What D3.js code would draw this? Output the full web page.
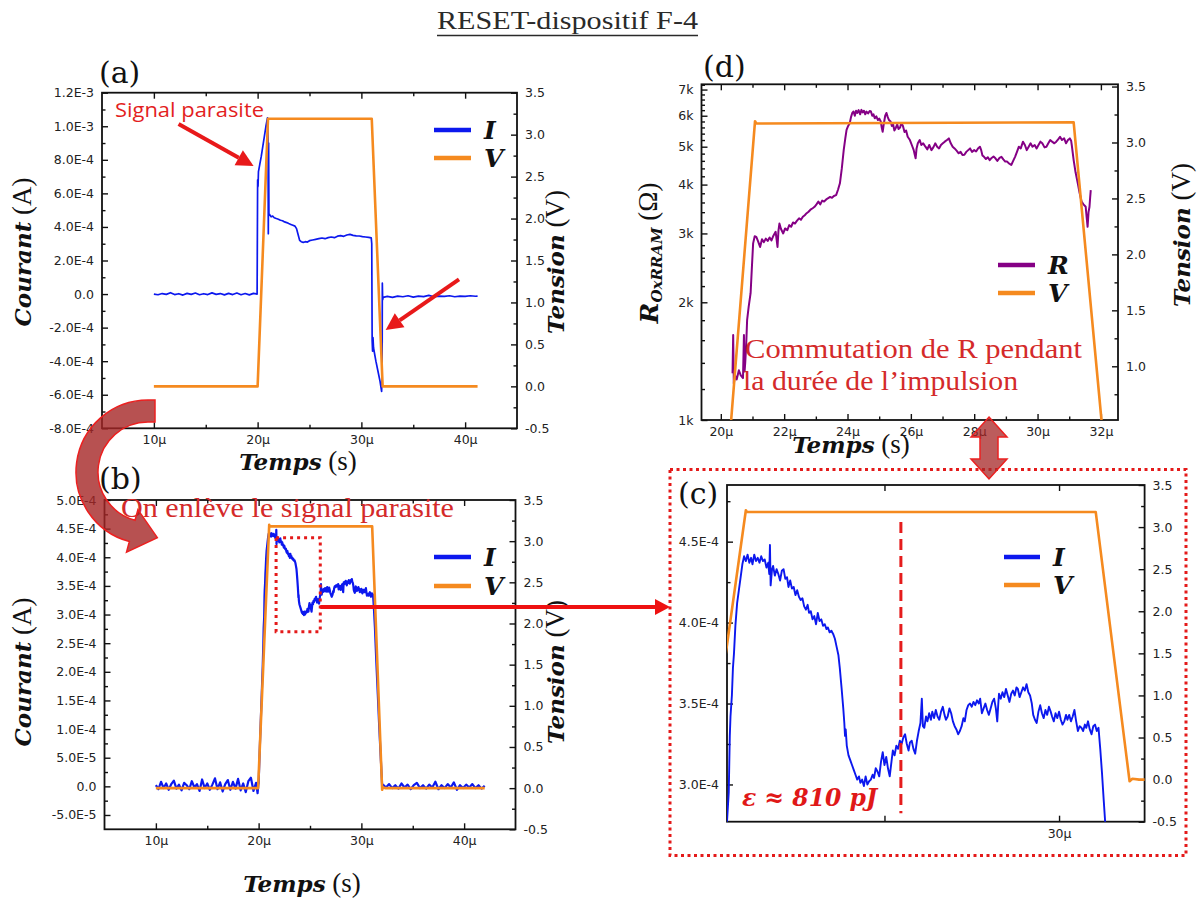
<!DOCTYPE html>
<html><head><meta charset="utf-8">
<script src="https://cdn.jsdelivr.net/npm/d3@7"></script>
<style>body{margin:0;background:#fff} svg{display:block}</style>
</head><body>
<svg id="fig" width="1197" height="900"></svg>
<script>
// ================= DATA =================
// Panel (a): raw measurement. time in µs, current in mA (×1e-3 A), voltage in V
const aCurrent = [[10,0],[10.4,-0.004],[10.8,0.003],[11.2,-0.002],[11.6,0.008],[12.0,-0.003],[12.4,0.002],[12.8,-0.006],[13.2,0.004],[13.6,-0.002],[14.0,0.006],[14.4,-0.004],[14.8,0.002],[15.2,-0.003],[15.6,0.007],[16.0,-0.002],[16.4,0.003],[16.8,-0.005],[17.2,0.004],[17.6,-0.003],[18.0,0.006],[18.4,-0.004],[18.8,0.003],[19.2,-0.005],[19.6,0.004],[19.95,0.0],
[20.0,0.68],[20.04,0.64],[20.08,0.73],[20.2,0.77],[20.35,0.82],[20.5,0.88],[20.65,0.94],[20.8,1.0],[20.95,1.05],[21.0,0.93],[21.03,0.36],[21.06,0.9],[21.09,0.47],[21.15,0.475],[21.3,0.46],[21.45,0.465],[21.6,0.455],[21.8,0.45],[22.0,0.446],[22.2,0.44],[22.4,0.437],[22.6,0.43],[22.8,0.426],[23.0,0.42],[23.2,0.415],[23.4,0.41],[23.6,0.405],[23.75,0.39],[23.9,0.355],[24.05,0.32],[24.2,0.312],[24.4,0.308],[24.6,0.312],[24.8,0.31],[25.0,0.318],[25.3,0.322],[25.6,0.326],[25.9,0.33],[26.2,0.334],[26.5,0.33],[26.8,0.336],[27.1,0.34],[27.4,0.336],[27.7,0.345],[28.0,0.348],[28.3,0.344],[28.6,0.352],[28.9,0.356],[29.2,0.35],[29.5,0.347],[29.8,0.346],[30.1,0.342],[30.4,0.34],[30.7,0.338],[30.95,0.335],
[31.0,0.3],[31.04,-0.28],[31.08,-0.34],[31.12,-0.26],[31.17,-0.32],[31.4,-0.4],[31.6,-0.46],[31.8,-0.52],[31.95,-0.58],[32.0,-0.48],[32.02,0.065],[32.05,-0.035],[32.1,-0.02],[32.5,-0.014],[33,-0.02],[33.5,-0.012],[34,-0.016],[34.5,-0.01],[35,-0.018],[35.5,-0.012],[36,-0.015],[36.5,-0.008],[37,-0.016],[37.5,-0.012],[38,-0.014],[38.5,-0.01],[39,-0.016],[39.5,-0.012],[40,-0.014],[40.5,-0.01],[41,-0.013],[41.2,-0.012]];
const aVoltage = [[10,0],[20.0,0],[21.0,3.19],[31.0,3.19],[32.05,0],[41.2,0]];

// Panels (b) and (c): corrected current, time in µs, current in ×1e-4 A
const bBaselineBefore = [[10.0,0.02],[10.25,-0.05],[10.5,0.08],[10.75,-0.03],[11.0,0.05],[11.25,-0.06],[11.5,0.04],[11.75,0.1],[12.0,-0.04],[12.25,0.03],[12.5,-0.07],[12.75,0.06],[13.0,0.02],[13.25,-0.05],[13.5,0.09],[13.75,-0.02],[14.0,0.04],[14.25,-0.08],[14.5,0.12],[14.75,-0.03],[15.0,0.05],[15.25,-0.06],[15.5,0.03],[15.75,0.14],[16.0,-0.05],[16.25,0.07],[16.5,-0.09],[16.75,0.04],[17.0,0.11],[17.25,-0.06],[17.5,0.08],[17.75,-0.04],[18.0,0.13],[18.25,-0.07],[18.5,0.05],[18.75,-0.1],[19.0,0.09],[19.25,0.15],[19.5,-0.08],[19.75,0.06],[19.9,-0.12],[19.97,0.03]];
const bPulse = [[20.0,0.05],[20.1,0.6],[20.2,1.1],[20.3,1.6],[20.4,2.1],[20.46,2.5],
[20.49,2.77],[20.54,2.95],[20.57,3.30],[20.59,3.42],[20.63,3.55],[20.66,3.72],[20.69,3.81],[20.73,3.98],[20.78,4.12],[20.83,4.20],[20.88,4.28],[20.93,4.36],[20.98,4.41],[21.03,4.38],[21.08,4.42],[21.13,4.37],[21.18,4.40],[21.22,4.36],[21.27,4.42],[21.32,4.38],[21.37,4.40],[21.42,4.37],[21.47,4.41],[21.52,4.38],[21.57,4.39],[21.62,4.34],[21.67,4.37],[21.70,4.30],[21.72,4.48],[21.74,4.23],[21.78,4.33],[21.81,4.35],[21.86,4.29],[21.91,4.33],[21.96,4.30],[22.01,4.26],[22.06,4.32],[22.11,4.33],[22.16,4.27],[22.21,4.28],[22.25,4.22],[22.30,4.26],[22.35,4.21],[22.40,4.22],[22.45,4.17],[22.50,4.20],[22.55,4.16],[22.60,4.14],[22.65,4.15],[22.70,4.10],[22.75,4.08],[22.80,4.11],[22.84,4.06],[22.89,4.07],[22.94,4.02],[22.99,4.04],[23.04,3.99],[23.09,4.06],[23.14,4.01],[23.19,4.02],[23.24,3.98],[23.29,3.99],[23.34,3.96],[23.38,3.97],[23.43,3.94],[23.48,3.95],[23.53,3.93],[23.58,3.90],[23.63,3.85],[23.68,3.80],[23.72,3.72],[23.77,3.60],[23.82,3.47],[23.85,3.38],[23.87,3.30],[23.89,3.34],[23.92,3.24],[23.97,3.18],[24.02,3.15],[24.07,3.12],[24.12,3.09],[24.17,3.06],[24.22,3.03],[24.27,3.05],[24.31,3.01],[24.36,3.03],[24.41,2.99],[24.46,3.05],[24.51,3.00],[24.56,3.02],[24.61,3.03],[24.66,3.06],[24.70,3.04],[24.75,3.10],[24.80,3.08],[24.85,3.05],[24.90,3.14],[24.95,3.20],[25.00,3.12],[25.05,3.17],[25.10,3.10],[25.15,3.05],[25.20,3.14],[25.24,3.21],[25.29,3.18],[25.34,3.24],[25.39,3.22],[25.44,3.27],[25.49,3.25],[25.54,3.29],[25.59,3.31],[25.64,3.25],[25.69,3.21],[25.73,3.26],[25.78,3.27],[25.83,3.22],[25.88,3.19],[25.93,3.27],[25.98,3.33],[26.03,3.38],[26.07,3.53],[26.10,3.36],[26.14,3.35],[26.19,3.42],[26.23,3.39],[26.28,3.44],[26.33,3.40],[26.37,3.45],[26.42,3.41],[26.47,3.46],[26.52,3.42],[26.57,3.40],[26.62,3.45],[26.67,3.48],[26.72,3.43],[26.76,3.40],[26.81,3.42],[26.86,3.47],[26.91,3.44],[26.96,3.39],[27.01,3.36],[27.06,3.34],[27.11,3.31],[27.16,3.33],[27.21,3.36],[27.26,3.41],[27.30,3.39],[27.35,3.46],[27.40,3.49],[27.45,3.50],[27.50,3.48],[27.55,3.51],[27.60,3.49],[27.65,3.52],[27.70,3.50],[27.74,3.53],[27.79,3.44],[27.84,3.47],[27.89,3.50],[27.94,3.46],[27.99,3.43],[28.04,3.47],[28.09,3.51],[28.14,3.53],[28.19,3.47],[28.23,3.39],[28.26,3.50],[28.28,3.56],[28.33,3.53],[28.38,3.57],[28.43,3.54],[28.48,3.59],[28.53,3.55],[28.58,3.51],[28.63,3.56],[28.68,3.58],[28.73,3.55],[28.78,3.60],[28.82,3.59],[28.87,3.54],[28.92,3.57],[28.97,3.60],[29.02,3.58],[29.07,3.62],[29.12,3.57],[29.17,3.55],[29.22,3.50],[29.26,3.43],[29.31,3.40],[29.36,3.38],[29.41,3.45],[29.46,3.49],[29.51,3.44],[29.56,3.41],[29.61,3.46],[29.66,3.43],[29.71,3.48],[29.76,3.45],[29.80,3.42],[29.85,3.39],[29.90,3.44],[29.95,3.41],[30.00,3.45],[30.05,3.40],[30.10,3.37],[30.15,3.39],[30.20,3.43],[30.24,3.40],[30.29,3.43],[30.34,3.39],[30.39,3.42],[30.44,3.46],[30.49,3.39],[30.54,3.33],[30.59,3.36],[30.64,3.35],[30.69,3.33],[30.74,3.37],[30.78,3.35],[30.83,3.39],[30.88,3.34],[30.93,3.31],[30.98,3.36],[31.03,3.37],[31.08,3.33],[31.13,3.35],[31.18,3.22],[31.23,3.07],[31.28,2.90],[31.32,2.77],
[31.45,2.2],[31.6,1.6],[31.75,1.0],[31.9,0.45],[32.02,0.02]];
const bBaselineAfter = [[32.1,0.03],[32.4,-0.02],[32.7,0.04],[33.0,-0.03],[33.3,0.02],[33.6,-0.04],[33.9,0.05],[34.2,-0.02],[34.5,0.03],[34.8,-0.05],[35.1,0.02],[35.4,0.06],[35.7,-0.03],[36.0,0.02],[36.3,-0.04],[36.6,0.03],[36.9,-0.02],[37.2,0.08],[37.5,-0.05],[37.8,0.02],[38.1,-0.03],[38.4,0.04],[38.7,-0.02],[39.0,0.07],[39.3,-0.06],[39.6,0.02],[39.9,-0.03],[40.2,0.03],[40.5,-0.02],[40.8,0.04],[41.1,-0.03],[41.4,0.02],[41.7,-0.04],[42.0,0.01]];
const bVoltage = [[10,0],[19.95,0],[21.03,3.2],[21.06,3.18],[31.05,3.18],[32.02,-0.02],[32.1,0.01],[32.3,0],[42,0]];

// Panel (d): resistance in Ω, time in µs
const dResistance = [[20.37,1316],[20.39,1650],[20.41,1240],[20.45,1300],[20.5,1270],[20.57,1340],[20.63,1300],[20.7,1280],[20.73,1650],[20.75,1330],[20.77,1400],[20.8,1550],[20.83,1800],[20.88,1950],[20.94,2110],[20.98,2450],[21.02,2830],[21.07,2950],[21.12,2940],[21.18,2860],[21.24,2770],[21.3,2900],[21.36,2850],[21.42,2910],[21.48,2870],[21.54,2930],[21.6,2880],[21.66,2960],[21.73,3030],[21.76,2900],[21.79,2770],[21.82,3050],[21.85,3180],[21.9,3080],[21.97,3000],[22.03,3090],[22.1,3060],[22.16,3150],[22.22,3120],[22.28,3200],[22.34,3180],[22.4,3230],[22.47,3280],[22.53,3250],[22.59,3310],[22.65,3340],[22.71,3380],[22.77,3410],[22.83,3450],[22.9,3480],[22.96,3510],[23.02,3560],[23.08,3620],[23.14,3560],[23.2,3640],[23.26,3620],[23.32,3660],[23.38,3690],[23.45,3720],[23.51,3700],[23.57,3740],[23.64,3760],[23.7,3880],[23.76,4030],[23.82,4400],[23.88,4900],[23.93,5250],[23.97,5520],[24.02,5650],[24.07,5740],[24.11,5950],[24.15,6100],[24.19,6150],[24.23,6000],[24.27,6180],[24.31,6100],[24.35,6200],[24.4,6050],[24.44,6210],[24.48,6120],[24.52,6180],[24.56,6050],[24.6,6150],[24.65,6080],[24.7,6170],[24.74,6150],[24.78,6000],[24.82,6050],[24.86,5910],[24.91,5980],[24.96,5850],[25.0,5900],[25.05,5800],[25.08,5600],[25.11,5460],[25.15,5750],[25.19,6000],[25.23,6100],[25.27,5950],[25.31,5850],[25.36,5800],[25.4,5650],[25.44,5700],[25.48,5500],[25.53,5600],[25.57,5700],[25.61,5550],[25.66,5600],[25.7,5750],[25.75,5650],[25.8,5450],[25.85,5500],[25.9,5300],[25.97,5200],[26.03,5050],[26.09,4900],[26.12,4780],[26.15,4670],[26.18,4950],[26.22,5100],[26.28,5200],[26.33,5050],[26.39,5100],[26.46,5000],[26.52,4920],[26.58,5050],[26.65,4900],[26.71,4980],[26.77,5100],[26.83,5000],[26.89,4950],[26.95,5050],[27.01,5100],[27.07,5150],[27.14,5200],[27.2,5250],[27.26,5100],[27.32,5000],[27.38,4950],[27.45,4880],[27.51,4810],[27.57,4850],[27.63,4760],[27.69,4770],[27.75,4850],[27.81,4900],[27.87,4950],[27.93,4850],[28.0,4900],[28.06,4860],[28.12,4950],[28.18,5000],[28.22,4900],[28.26,4750],[28.31,4710],[28.37,4650],[28.43,4700],[28.49,4620],[28.55,4680],[28.61,4720],[28.67,4670],[28.73,4600],[28.8,4680],[28.86,4710],[28.92,4640],[28.98,4580],[29.04,4580],[29.1,4530],[29.17,4490],[29.23,4600],[29.29,4710],[29.35,4850],[29.41,5000],[29.47,4950],[29.54,5150],[29.6,5050],[29.66,4900],[29.72,5000],[29.78,5100],[29.84,5000],[29.91,5050],[29.97,4950],[30.03,5050],[30.09,5150],[30.15,5100],[30.22,4980],[30.28,5000],[30.34,5100],[30.4,5200],[30.46,5150],[30.53,5100],[30.59,5150],[30.65,5220],[30.71,5300],[30.77,5200],[30.84,5250],[30.9,5100],[30.96,5200],[31.02,5250],[31.06,5180],[31.08,5050],[31.14,4620],[31.2,4300],[31.27,4030],[31.33,3800],[31.39,3620],[31.45,3560],[31.52,3510],[31.55,3300],[31.58,3120],[31.61,3400],[31.64,3510],[31.66,3700],[31.68,3870]];
const dVoltage = [[20.18,0],[21.08,3.19],[21.12,3.17],[31.14,3.18],[32.19,0]];

// Tick values and labels
const timeTicksAB = [10,20,30,40];
const timeLabelsAB = ["10μ","20μ","30μ","40μ"];
const timeMinorAB = [15,25,35];
const aCurrentTicks = [-0.8,-0.6,-0.4,-0.2,0,0.2,0.4,0.6,0.8,1.0,1.2];
const aCurrentLabels = ["-8.0E-4","-6.0E-4","-4.0E-4","-2.0E-4","0.0","2.0E-4","4.0E-4","6.0E-4","8.0E-4","1.0E-3","1.2E-3"];
const aCurrentMinor = [-0.7,-0.5,-0.3,-0.1,0.1,0.3,0.5,0.7,0.9,1.1];
const bCurrentTicks = [-0.5,0,0.5,1.0,1.5,2.0,2.5,3.0,3.5,4.0,4.5,5.0];
const bCurrentLabels = ["-5.0E-5","0.0","5.0E-5","1.0E-4","1.5E-4","2.0E-4","2.5E-4","3.0E-4","3.5E-4","4.0E-4","4.5E-4","5.0E-4"];
const bCurrentMinor = [-0.25,0.25,0.75,1.25,1.75,2.25,2.75,3.25,3.75,4.25,4.75];
const voltTicks = [-0.5,0,0.5,1.0,1.5,2.0,2.5,3.0,3.5];
const voltLabels = ["-0.5","0.0","0.5","1.0","1.5","2.0","2.5","3.0","3.5"];
const voltMinor = [-0.25,0.25,0.75,1.25,1.75,2.25,2.75,3.25];
const cTimeTicks = [25,30];
const cTimeLabels = ["","30μ"];
const cCurrentTicks = [3.0,3.5,4.0,4.5];
const cCurrentLabels = ["3.0E-4","3.5E-4","4.0E-4","4.5E-4"];
const cCurrentMinor = [3.25,3.75,4.25,4.75];
const dTimeTicks = [20,22,24,26,28,30,32];
const dTimeLabels = ["20μ","22μ","24μ","26μ","28μ","30μ","32μ"];
const dTimeMinor = [21,23,25,27,29,31];
const dResTicks = [1000,2000,3000,4000,5000,6000,7000];
const dResLabels = ["1k","2k","3k","4k","5k","6k","7k"];
const dResMinor = [1200,1400,1600,1800,2200,2400,2600,2800,3200,3400,3600,3800,4200,4400,4600,4800,5200,5400,5600,5800,6200,6400,6600,6800,7200];
const dVoltTicks = [1.0,1.5,2.0,2.5,3.0,3.5];
const dVoltLabels = ["1.0","1.5","2.0","2.5","3.0","3.5"];
const dVoltMinor = [0.75,1.25,1.75,2.25,2.75,3.25];

// ================= STYLE =================
const BLUE = "#0c18ee", ORANGE = "#f58a1f", PURPLE = "#850085", RED = "#e8191a", TXTRED = "#d42a2a";
const SANS = "'DejaVu Sans', sans-serif";
const SERIF = "'Liberation Serif', 'DejaVu Serif', serif";
const SERIFBI = "'DejaVu Serif', serif";

const svg = d3.select("#fig");
const defs = svg.append("defs");

function makePanel(o) {
  const x = d3.scaleLinear().domain(o.xDomain).range([o.l, o.r]);
  const yL = (o.logY ? d3.scaleLog() : d3.scaleLinear()).domain(o.yLDomain).range([o.b, o.t]);
  const yR = d3.scaleLinear().domain(o.yRDomain).range([o.b, o.t]);
  defs.append("clipPath").attr("id", "clip-" + o.id).append("rect")
    .attr("x", o.l).attr("y", o.t).attr("width", o.r - o.l).attr("height", o.b - o.t);
  const g = svg.append("g");
  return Object.assign({}, o, {x, yL, yR, g});
}

function axis(g, gen, tx, ty, vals, labels, size, pad) {
  const a = g.append("g").attr("transform", `translate(${tx},${ty})`)
    .call(gen.tickValues(vals).tickSize(size).tickSizeOuter(0).tickPadding(pad)
      .tickFormat(labels ? (d, i) => labels[i] : () => ""));
  a.select(".domain").remove();
  a.attr("font-family", SANS).attr("font-size", 12.5).attr("color", "#222");
  a.selectAll("line").attr("stroke", "#111").attr("stroke-width", 1.4);
  return a;
}

function drawAxes(p) {
  const g = p.g;
  axis(g, d3.axisBottom(p.x), 0, p.b, p.xTicks, p.xLabels, -6, 7);
  if (p.xMinor) axis(g, d3.axisBottom(p.x), 0, p.b, p.xMinor, null, -3.5, 7);
  axis(g, d3.axisTop(p.x), 0, p.t, p.xTicks, null, -6, 3);
  if (p.xMinor) axis(g, d3.axisTop(p.x), 0, p.t, p.xMinor, null, -3.5, 3);
  axis(g, d3.axisLeft(p.yL), p.l, 0, p.yLTicks, p.yLLabels, -6, 8);
  if (p.yLMinor) axis(g, d3.axisLeft(p.yL), p.l, 0, p.yLMinor, null, -3.5, 8);
  axis(g, d3.axisRight(p.yR), p.r, 0, p.yRTicks, p.yRLabels, -6, 8);
  if (p.yRMinor) axis(g, d3.axisRight(p.yR), p.r, 0, p.yRMinor, null, -3.5, 8);
  g.append("rect").attr("x", p.l).attr("y", p.t).attr("width", p.r - p.l).attr("height", p.b - p.t)
    .attr("fill", "none").attr("stroke", "#111").attr("stroke-width", 1.8);
}

function series(p, data, yScale, color, width) {
  p.g.append("path").datum(data).attr("clip-path", `url(#clip-${p.id})`)
    .attr("d", d3.line().x(d => p.x(d[0])).y(d => yScale(d[1])))
    .attr("fill", "none").attr("stroke", color).attr("stroke-width", width)
    .attr("stroke-linejoin", "round");
}

function legend(p, x0, x1, items) {
  items.forEach(it => {
    p.g.append("line").attr("x1", x0).attr("x2", x1).attr("y1", it.y).attr("y2", it.y)
      .attr("stroke", it.color).attr("stroke-width", 4.5);
    p.g.append("text").attr("x", x1 + 13).attr("y", it.y).attr("dy", "0.36em")
      .attr("font-family", SERIFBI).attr("font-weight", "bold").attr("font-style", "italic")
      .attr("font-size", 25).attr("fill", "#111").text(it.label);
  });
}

function axisTitle(x, y, rot, parts) {
  const t = svg.append("text").attr("transform", `translate(${x},${y}) rotate(${rot})`)
    .attr("text-anchor", "middle").attr("dy", "0.35em").attr("fill", "#111");
  parts.forEach(pt => {
    const s = t.append("tspan").text(pt.text).attr("font-size", pt.size || 23)
      .attr("font-family", pt.bi ? SERIFBI : SERIF);
    if (pt.bi) s.attr("font-weight", "bold").attr("font-style", "italic");
    if (pt.dy) s.attr("dy", pt.dy);
  });
  return t;
}

function panelLabel(x, y, txt) {
  svg.append("text").attr("x", x).attr("y", y).attr("font-family", SERIFBI)
    .attr("font-size", 30).attr("fill", "#111").text(txt);
}

// ================= PANEL A =================
const A = makePanel({id: "a", l: 102, r: 517, t: 92.7, b: 428.3,
  xDomain: [5, 45], yLDomain: [-0.8, 1.2], yRDomain: [-0.5, 3.5],
  xTicks: timeTicksAB, xLabels: timeLabelsAB, xMinor: timeMinorAB,
  yLTicks: aCurrentTicks, yLLabels: aCurrentLabels, yLMinor: aCurrentMinor,
  yRTicks: voltTicks, yRLabels: voltLabels, yRMinor: voltMinor});
drawAxes(A);
series(A, aCurrent, A.yL, BLUE, 1.7);
series(A, aVoltage, A.yR, ORANGE, 2.6);
legend(A, 434, 471, [{y: 130, color: BLUE, label: "I"}, {y: 158, color: ORANGE, label: "V"}]);

// ================= PANEL B =================
const B = makePanel({id: "b", l: 104.5, r: 515.5, t: 500, b: 829.3,
  xDomain: [5, 45], yLDomain: [-0.75, 5.0], yRDomain: [-0.5, 3.5],
  xTicks: timeTicksAB, xLabels: timeLabelsAB, xMinor: timeMinorAB,
  yLTicks: bCurrentTicks, yLLabels: bCurrentLabels, yLMinor: bCurrentMinor,
  yRTicks: voltTicks, yRLabels: voltLabels, yRMinor: voltMinor});
drawAxes(B);
const bCurrent = bBaselineBefore.concat(bPulse, bBaselineAfter);
series(B, bCurrent, B.yL, BLUE, 2.2);
series(B, bVoltage, B.yR, ORANGE, 2.6);
legend(B, 434, 471, [{y: 557, color: BLUE, label: "I"}, {y: 586, color: ORANGE, label: "V"}]);

// ================= PANEL C =================
const C = makePanel({id: "c", l: 727, r: 1144.6, t: 485, b: 821.7,
  xDomain: [20.49, 32.45], yLDomain: [2.77, 4.85], yRDomain: [-0.5, 3.5],
  xTicks: cTimeTicks, xLabels: cTimeLabels, xMinor: null,
  yLTicks: cCurrentTicks, yLLabels: cCurrentLabels, yLMinor: cCurrentMinor,
  yRTicks: voltTicks, yRLabels: voltLabels, yRMinor: voltMinor});
drawAxes(C);
series(C, bPulse, C.yL, BLUE, 1.9);
series(C, bVoltage, C.yR, ORANGE, 2.6);
legend(C, 1004, 1040, [{y: 557, color: BLUE, label: "I"}, {y: 585, color: ORANGE, label: "V"}]);
C.g.append("line").attr("x1", C.x(25.47)).attr("x2", C.x(25.47))
  .attr("y1", C.yR(3.06)).attr("y2", C.yR(-0.4))
  .attr("stroke", "#e51c1c").attr("stroke-width", 3).attr("stroke-dasharray", "11,6");
svg.append("text").attr("x", 742).attr("y", 806).attr("font-family", SERIFBI)
  .attr("font-weight", "bold").attr("font-style", "italic").attr("font-size", 25)
  .attr("fill", "#e01818").attr("textLength", 135).attr("lengthAdjust", "spacingAndGlyphs")
  .text("ε ≈ 810 pJ");

// ================= PANEL D =================
const D = makePanel({id: "d", l: 701.5, r: 1118, t: 84.3, b: 420, logY: true,
  xDomain: [19.39, 32.54], yLDomain: [1000, 7220], yRDomain: [0.52, 3.52],
  xTicks: dTimeTicks, xLabels: dTimeLabels, xMinor: dTimeMinor,
  yLTicks: dResTicks, yLLabels: dResLabels, yLMinor: dResMinor,
  yRTicks: dVoltTicks, yRLabels: dVoltLabels, yRMinor: dVoltMinor});
drawAxes(D);
series(D, dResistance, D.yL, PURPLE, 2);
series(D, dVoltage, D.yR, ORANGE, 2.6);
legend(D, 998, 1035, [{y: 265, color: PURPLE, label: "R"}, {y: 293, color: ORANGE, label: "V"}]);

// ================= AXIS TITLES =================
axisTitle(25, 252, -90, [{text: "Courant", bi: true}, {text: " (A)", size: 27}]);
axisTitle(25, 672, -90, [{text: "Courant", bi: true}, {text: " (A)", size: 27}]);
axisTitle(558, 262, -90, [{text: "Tension", bi: true}, {text: " (V)", size: 27}]);
axisTitle(558, 672, -90, [{text: "Tension", bi: true}, {text: " (V)", size: 27}]);
axisTitle(298, 464, 0, [{text: "Temps", bi: true}, {text: " (s)", size: 27}]);
axisTitle(302, 886, 0, [{text: "Temps", bi: true}, {text: " (s)", size: 27}]);
axisTitle(851, 447, 0, [{text: "Temps", bi: true}, {text: " (s)", size: 27}]);
axisTitle(1184, 235, -90, [{text: "Tension", bi: true}, {text: " (V)", size: 27}]);
axisTitle(652, 253, -90, [{text: "R", bi: true, size: 25}, {text: "OxRRAM", bi: true, size: 15, dy: "0.3em"}, {text: " (Ω)", size: 27, dy: "-0.2em"}]);

panelLabel(99, 83, "(a)");
panelLabel(99, 489, "(b)");
panelLabel(678, 504, "(c)");
panelLabel(703, 77, "(d)");

// ================= TITLE & ANNOTATIONS =================
svg.append("text").attr("x", 437).attr("y", 29).attr("font-family", SERIF).attr("font-size", 26)
  .attr("fill", "#2a2a2a").attr("textLength", 261).attr("lengthAdjust", "spacingAndGlyphs")
  .text("RESET-dispositif F-4");
svg.append("line").attr("x1", 437).attr("x2", 698).attr("y1", 35.5).attr("y2", 35.5)
  .attr("stroke", "#2a2a2a").attr("stroke-width", 1.3);

svg.append("text").attr("x", 115).attr("y", 117).attr("font-family", "'Open Sans', sans-serif")
  .attr("font-size", 20).attr("fill", "#e31e1e").attr("textLength", 149).attr("lengthAdjust", "spacingAndGlyphs")
  .text("Signal parasite");

function arrow(x1, y1, x2, y2, w, headL, headW, color) {
  const ang = Math.atan2(y2 - y1, x2 - x1);
  const bx = x2 - headL * Math.cos(ang), by = y2 - headL * Math.sin(ang);
  svg.append("line").attr("x1", x1).attr("y1", y1).attr("x2", bx).attr("y2", by)
    .attr("stroke", color).attr("stroke-width", w);
  const nx = -Math.sin(ang), ny = Math.cos(ang);
  svg.append("path").attr("d", `M${x2},${y2}L${bx + nx * headW / 2},${by + ny * headW / 2}L${bx - nx * headW / 2},${by - ny * headW / 2}Z`)
    .attr("fill", color);
}
arrow(A.x(12.38), A.yL(1.013), A.x(19.61), A.yL(0.763), 4, 17, 17, RED);
arrow(A.x(39.41), A.yL(0.088), A.x(32.34), A.yL(-0.214), 4, 17, 17, RED);

const boxT = [21.7, 26.0], boxI = [2.7, 4.34];
svg.append("rect").attr("x", B.x(boxT[0])).attr("y", B.yL(boxI[1]))
  .attr("width", B.x(boxT[1]) - B.x(boxT[0])).attr("height", B.yL(boxI[0]) - B.yL(boxI[1]))
  .attr("fill", "none").attr("stroke", "#e41a1a").attr("stroke-width", 3).attr("stroke-dasharray", "3,4");
arrow(B.x(26.0), B.yL(3.13), 670, B.yL(3.13), 4, 15, 16, "#ee1111");

svg.append("rect").attr("x", 670).attr("y", 469.5).attr("width", 516).attr("height", 386)
  .attr("fill", "none").attr("stroke", "#e41a1a").attr("stroke-width", 3).attr("stroke-dasharray", "3,3.5");

svg.append("text").attr("x", 121).attr("y", 517).attr("font-family", SERIF).attr("font-size", 28)
  .attr("fill", TXTRED).attr("textLength", 333).attr("lengthAdjust", "spacingAndGlyphs")
  .text("On enlève le signal parasite");
svg.append("text").attr("x", 745).attr("y", 358).attr("font-family", SERIF).attr("font-size", 28)
  .attr("fill", TXTRED).attr("textLength", 337).attr("lengthAdjust", "spacingAndGlyphs")
  .text("Commutation de R pendant");
svg.append("text").attr("x", 743).attr("y", 390).attr("font-family", SERIF).attr("font-size", 28)
  .attr("fill", TXTRED).attr("textLength", 275).attr("lengthAdjust", "spacingAndGlyphs")
  .text("la durée de l’impulsion");

(function () {
  const cx = 148, cy = 472, Ro = 72, Ri = 50, end = 105 * Math.PI / 180;
  const po = [cx + Ro * Math.cos(end), cy + Ro * Math.sin(end)];
  const pi = [cx + Ri * Math.cos(end), cy + Ri * Math.sin(end)];
  const Rm = (Ro + Ri) / 2;
  const m = [cx + Rm * Math.cos(end), cy + Rm * Math.sin(end)];
  const n = [Math.cos(end), Math.sin(end)], tg = [Math.sin(end), -Math.cos(end)];
  const hw = 22, hl = 26;
  const ho = [m[0] + hw * n[0], m[1] + hw * n[1]], hi = [m[0] - hw * n[0], m[1] - hw * n[1]];
  const tip = [m[0] + hl * tg[0], m[1] + hl * tg[1]];
  const d = `M155,${cy - Ro} L${cx},${cy - Ro} A${Ro},${Ro} 0 0 0 ${po[0]},${po[1]} L${ho[0]},${ho[1]} L${tip[0]},${tip[1]} L${hi[0]},${hi[1]} L${pi[0]},${pi[1]} A${Ri},${Ri} 0 0 1 ${cx},${cy - Ri} L155,${cy - Ri} Z`;
  svg.append("path").attr("d", d).attr("fill", "#a52626").attr("fill-opacity", 0.8)
    .attr("stroke", "#ec2020").attr("stroke-width", 1.5);
})();

(function () {
  const cx = 989, y1 = 417, y2 = 479, hw = 18, bw = 9, hl = 20;
  const d = `M${cx},${y1} L${cx + hw},${y1 + hl} L${cx + bw},${y1 + hl} L${cx + bw},${y2 - hl} L${cx + hw},${y2 - hl} L${cx},${y2} L${cx - hw},${y2 - hl} L${cx - bw},${y2 - hl} L${cx - bw},${y1 + hl} L${cx - hw},${y1 + hl} Z`;
  svg.append("path").attr("d", d).attr("fill", "#a52626").attr("fill-opacity", 0.75)
    .attr("stroke", "#ec2020").attr("stroke-width", 1.5);
})();
</script>
</body></html>
